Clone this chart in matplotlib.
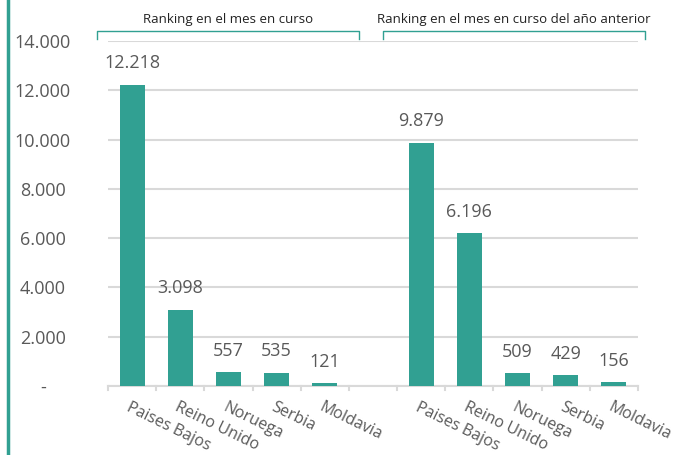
import numpy as np
import matplotlib.pyplot as plt
from matplotlib.lines import Line2D

plt.rcParams['font.family'] = ['Open Sans', 'DejaVu Sans']

# data
paises = ["Paises Bajos", "Reino Unido", "Noruega", "Serbia", "Moldavia"]
actual = [12218, 3098, 557, 535, 121]
anterior = [9879, 6196, 509, 429, 156]
titulo_actual = "Ranking en el mes en curso"
titulo_anterior = "Ranking en el mes en curso del año anterior"

verde = "#31A092"
gris = "#595959"

def fmt(v):
    return f"{v:,}".replace(",", ".")

labels = paises + [""] + paises
values = actual + [0] + anterior
x = np.arange(len(labels))

fig = plt.figure(figsize=(6.84, 4.55), dpi=100)
ax = fig.add_axes([108/684, 1-386/455, 530/684, 345/455])

mask = np.array([lab != "" for lab in labels])
ax.bar(x[mask], np.array(values)[mask], width=0.52, color=verde, zorder=3)

for xi, v, lab in zip(x, values, labels):
    if lab == "":
        continue
    ax.annotate(fmt(v), (xi, v), xytext=(0, 9), textcoords="offset points",
                ha="center", va="bottom", fontsize=13, color=gris)

ax.set_xlim(-0.5, len(labels) - 0.5)
ax.set_ylim(0, 14000)
yt = np.arange(0, 14001, 2000)
ax.set_yticks(yt)
ax.set_yticklabels(["-" if t == 0 else fmt(t) for t in yt], fontsize=13, color=gris)
ax.yaxis.set_tick_params(length=0, pad=47)
for t in ax.get_yticklabels():
    t.set_horizontalalignment("center")

ax.set_xticks(x)
ax.set_xticklabels([])
ax.tick_params(axis="x", length=0)
for xi, lab in zip(x, labels):
    ax.text(xi - 0.02, -550, lab, rotation=-26, rotation_mode="anchor",
            ha="left", va="top", fontsize=11.5, color=gris)
# small tick marks between categories
for b in np.arange(-0.5, len(labels), 1.0):
    ax.plot([b, b], [0, -180], color="#D9D9D9", lw=1.5, clip_on=False, zorder=2)

ax.grid(axis="y", color="#D9D9D9", lw=1.5, zorder=0)
for s in ["top", "right", "left"]:
    ax.spines[s].set_visible(False)
ax.spines["bottom"].set_color("#D9D9D9")
ax.spines["bottom"].set_linewidth(1.5)

# brackets and group titles (figure pixel coords)
def bracket(x0, x1, titulo):
    y_top = 1 - 31/455
    y_bot = 1 - 39/455
    fig.add_artist(Line2D([x0/684, x0/684, x1/684, x1/684], [y_bot, y_top, y_top, y_bot],
                          color=verde, lw=1.0, transform=fig.transFigure))
    fig.text((x0 + x1) / 2 / 684, 1 - 19/455, titulo, ha="center", va="center",
             fontsize=9.5, color="#222222")

bracket(97, 359, titulo_actual)
bracket(383, 645, titulo_anterior)

# left accent line
fig.add_artist(Line2D([8/684, 8/684], [0, 1], color=verde, lw=2.5, transform=fig.transFigure))

fig.savefig("out.png", dpi=100)
